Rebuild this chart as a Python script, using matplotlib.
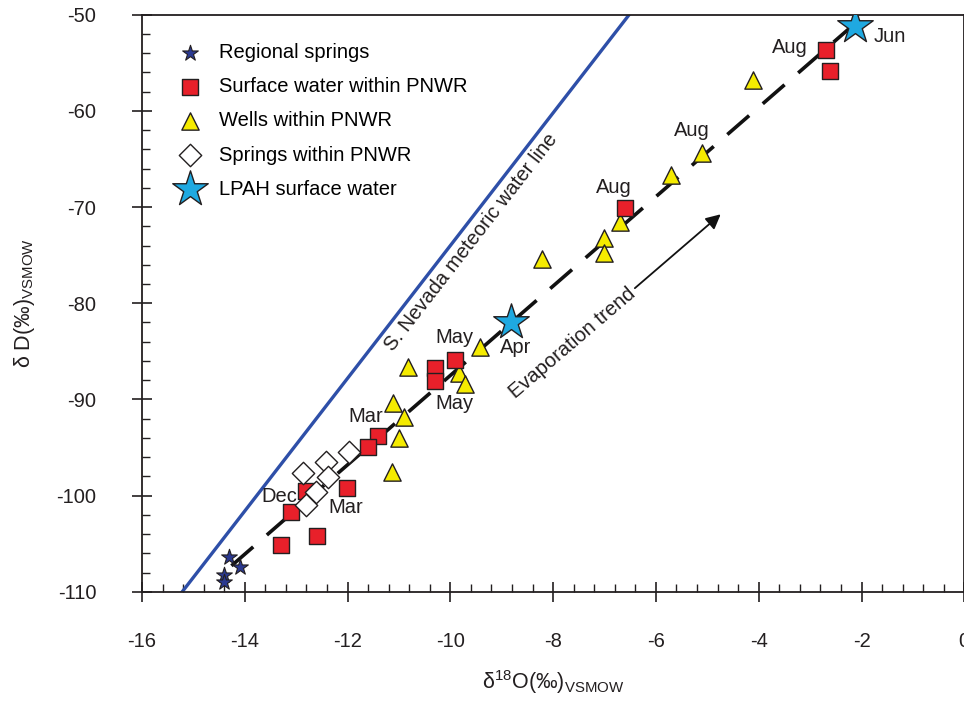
import matplotlib.pyplot as plt

plt.rcParams['font.family'] = ['Liberation Sans', 'DejaVu Sans']
plt.rcParams['mathtext.fontset'] = 'custom'
plt.rcParams['mathtext.rm'] = 'Liberation Sans'
plt.rcParams['mathtext.default'] = 'regular'
plt.rcParams['axes.unicode_minus'] = False

# values: d18O (x), dD (y)
regional_x = [-14.31, -14.10, -14.41, -14.41]
regional_y = [-106.4, -107.4, -108.3, -109.0]

surface_x = [-2.70, -2.62, -6.61, -10.29, -10.29, -9.90, -11.40, -11.61,
             -12.01, -12.80, -13.11, -13.30, -12.60]
surface_y = [-53.7, -55.8, -70.1, -86.7, -88.1, -85.9, -93.8, -94.9,
             -99.2, -99.5, -101.7, -105.1, -104.2]

wells_x = [-4.11, -5.10, -5.71, -6.70, -7.01, -7.01, -8.21, -9.42, -10.83,
           -9.83, -9.71, -11.12, -10.91, -11.00, -11.13]
wells_y = [-56.8, -64.4, -66.7, -71.5, -73.2, -74.8, -75.4, -84.5, -86.6,
           -87.3, -88.4, -90.4, -91.8, -94.0, -97.5]

springs_x = [-12.87, -12.41, -11.98, -12.39, -12.62, -12.80]
springs_y = [-97.6, -96.5, -95.5, -98.1, -99.6, -101.0]

lpah_x = [-2.12, -8.82]
lpah_y = [-51.2, -82.0]

# S. Nevada meteoric water line: dD = slope * d18O + intercept
mwl_slope = 6.9
mwl_intercept = -5.0
mwl_x = [-16.0, 0.0]

# evaporation trend (dashed) end points
evap_x = [-14.26, -2.21]
evap_y = [-107.3, -51.3]

# month labels: text, x, y, alignment
month_text = ['Jun', 'Aug', 'Aug', 'Aug', 'Apr', 'May', 'May', 'Mar', 'Dec', 'Mar']
month_x = [-1.45, -3.05, -5.30, -6.82, -8.72, -9.92, -9.92, -11.64, -13.32, -12.03]
month_y = [-52.3, -53.4, -62.0, -68.0, -84.6, -83.6, -90.4, -91.8, -100.1, -101.2]
month_ha = ['center', 'right', 'center', 'center', 'center', 'center', 'center',
            'center', 'center', 'center']

fig = plt.figure(figsize=(9.64, 7.02), dpi=100)
ax = fig.add_axes([0.1473, 0.157, 0.853, 0.822])

edge = '#231f20'
fs = 14.5

ax.plot(evap_x, evap_y, color='#111111', lw=2.6, dashes=(8, 5), zorder=2)
ax.plot(mwl_x, [mwl_slope * v + mwl_intercept for v in mwl_x],
        color='#2e4fa8', lw=2.4, zorder=2)

ax.scatter(wells_x, wells_y, marker='^', s=155, c='#f5eb00', edgecolors=edge,
           linewidths=1.0, zorder=3, label='Wells within PNWR')
ax.scatter(surface_x, surface_y, marker='s', s=125, c='#e8202a', edgecolors=edge,
           linewidths=1.0, zorder=4, label='Surface water within PNWR')
ax.scatter(springs_x, springs_y, marker='D', s=130, c='white', edgecolors=edge,
           linewidths=1.0, zorder=5, label='Springs within PNWR')
ax.scatter(regional_x, regional_y, marker='*', s=140, c='#2b3990', edgecolors=edge,
           linewidths=0.8, zorder=6, label='Regional springs')
ax.scatter(lpah_x, lpah_y, marker='*', s=720, c='#1fa9e1', edgecolors=edge,
           linewidths=1.0, zorder=7, label='LPAH surface water')

for t, x, y, ha in zip(month_text, month_x, month_y, month_ha):
    ax.text(x, y, t, fontsize=fs, ha=ha, va='center', color='#231f20', zorder=8)

ax.text(-9.6, -73.6, 'S. Nevada meteoric water line', fontsize=fs, rotation=52.2,
        rotation_mode='anchor', ha='center', va='center', color='#231f20')
ax.text(-7.62, -84.1, 'Evaporation trend', fontsize=fs, rotation=40.5,
        rotation_mode='anchor', ha='center', va='center', color='#231f20')
ax.annotate('', xy=(-4.74, -70.75), xytext=(-6.41, -78.43),
            arrowprops=dict(arrowstyle='-|>', color='#111111', lw=1.3,
                            mutation_scale=22, shrinkA=0, shrinkB=0))

ax.set_xlim(-16, 0)
ax.set_ylim(-110, -50)
ax.set_xticks(range(-16, 1, 2))
ax.set_yticks(range(-110, -49, 10))
ax.set_xticks([-16 + 0.4 * i for i in range(41)], minor=True)
ax.set_yticks([-110 + 2 * i for i in range(31)], minor=True)
ax.tick_params(which='major', direction='inout', length=14, width=1.2,
               color='#231f20', labelsize=fs, labelcolor='#231f20')
ax.tick_params(which='minor', direction='in', length=6, width=1.0, color='#231f20')
ax.tick_params(axis='y', which='major', pad=26)
ax.tick_params(axis='x', which='major', pad=22)

for side in ['left', 'bottom', 'top', 'right']:
    ax.spines[side].set_linewidth(1.3)
    ax.spines[side].set_color('#231f20')

ax.set_xlabel(r'δ$^{18}$O(‰)$_{VSMOW}$', fontsize=15.5, color='#231f20', labelpad=12)
ax.set_ylabel(r'δ D(‰)$_{VSMOW}$', fontsize=15.5, color='#231f20', labelpad=14)

h, l = ax.get_legend_handles_labels()
order = [3, 1, 0, 2, 4]
ax.legend([h[i] for i in order], [l[i] for i in order], loc='upper left',
          bbox_to_anchor=(0.032, 0.968), frameon=False, fontsize=fs,
          handletextpad=0.8, labelspacing=0.75, borderpad=0, handlelength=1.2)

fig.savefig('out.png', dpi=100)
